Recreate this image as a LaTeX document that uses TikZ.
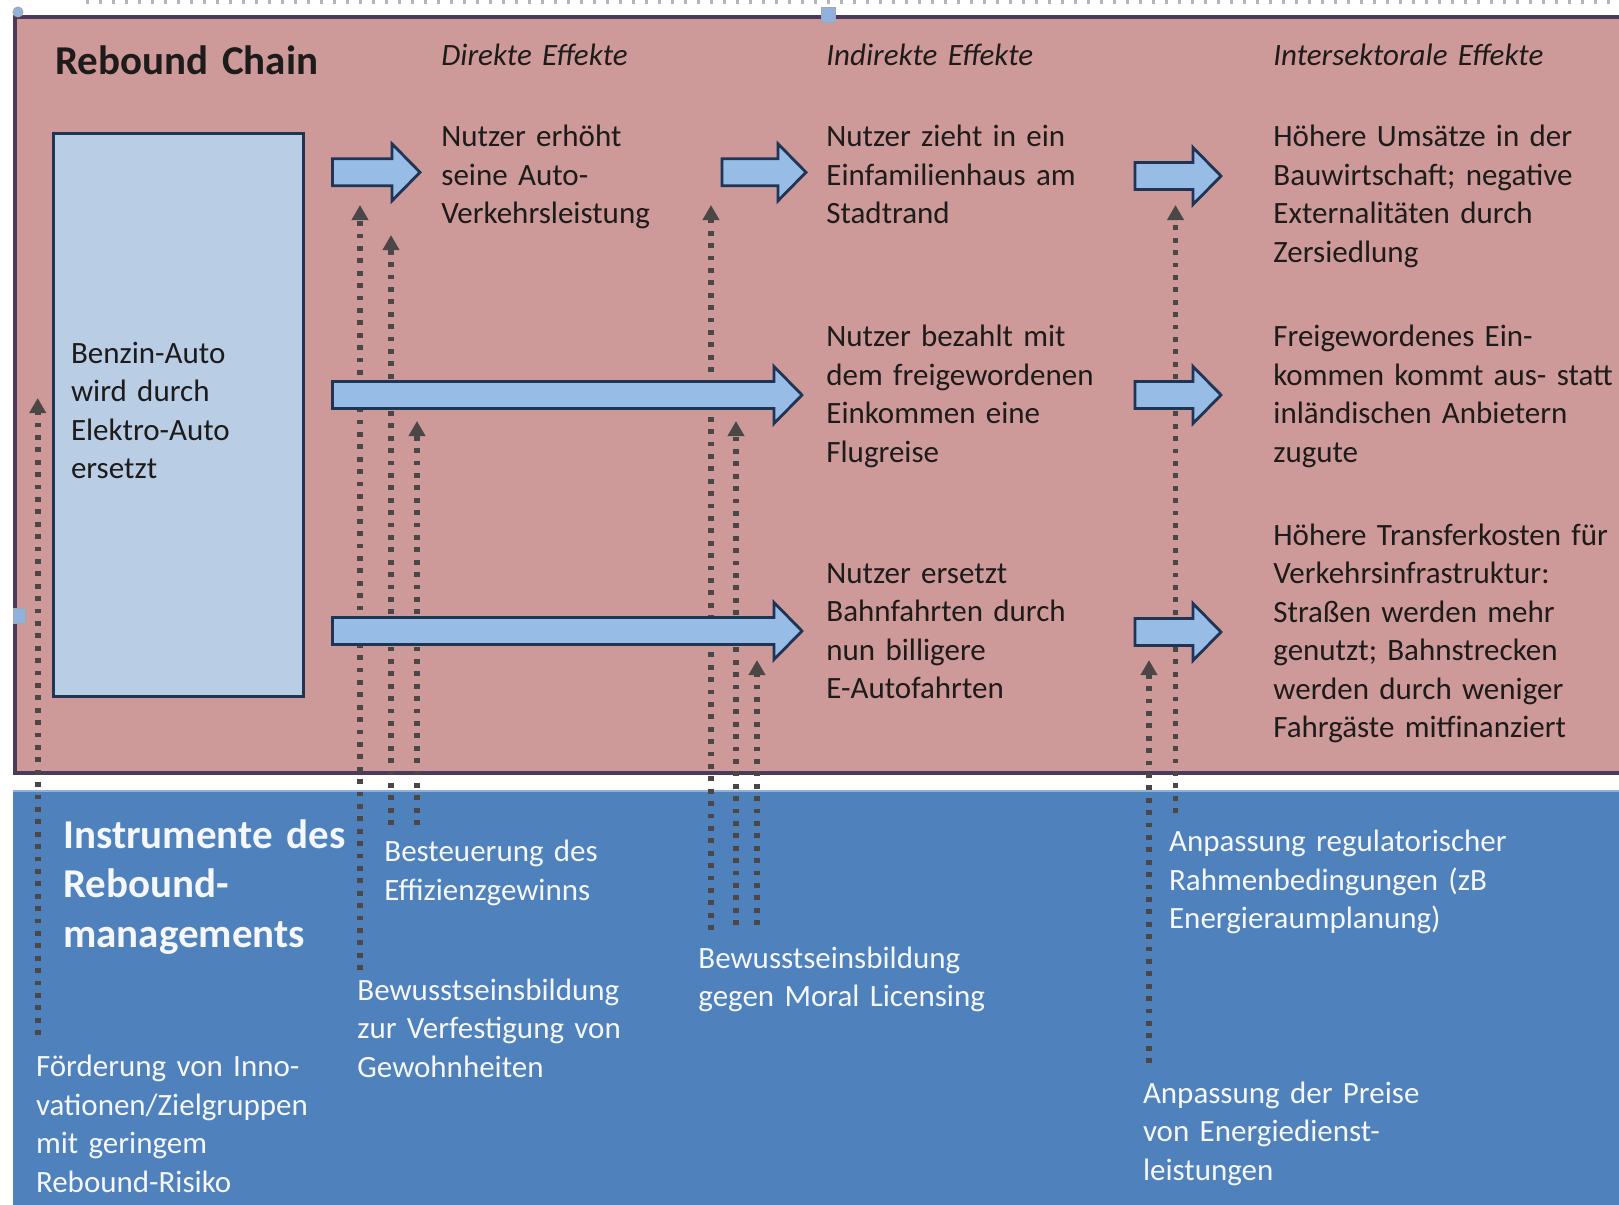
\documentclass[tikz,border=0pt]{standalone}
\usepackage{fontspec}
\setmainfont{Carlito}
\usetikzlibrary{arrows.meta}
\definecolor{pinkbg}{HTML}{CD9999}
\definecolor{pinkline}{HTML}{4A3A5E}
\definecolor{bluebg}{HTML}{4F81BD}
\definecolor{blueedge}{HTML}{8FB0D8}
\definecolor{boxfill}{HTML}{B9CDE5}
\definecolor{navy}{HTML}{1F3556}
\definecolor{arrowfill}{HTML}{97BCE6}
\definecolor{dotcol}{HTML}{4B4747}
\definecolor{txtdark}{HTML}{1E1B1B}
\definecolor{txtlight}{HTML}{F5F7FB}
\definecolor{handlefill}{HTML}{8FB2DE}
\definecolor{selgray}{HTML}{B4B4B4}
\newcommand\blockarr[3]{% left x, tip x, centre y
  \draw[blockarrow] (#1,#3-13.5) -- (#2-28,#3-13.5) -- (#2-28,#3-28.5) -- (#2,#3)
    -- (#2-28,#3+28.5) -- (#2-28,#3+13.5) -- (#1,#3+13.5) -- cycle;}
\begin{document}
\begin{tikzpicture}[x=0.5pt,y=-0.5pt,
  body/.style={anchor=base west,inner sep=0pt,text width=260pt,align=left,
    font=\fontsize{15.5}{19.25}\selectfont,text=txtdark},
  head/.style={body,font=\fontsize{15.5}{19.25}\selectfont\itshape},
  title/.style={body,font=\fontsize{20.5}{24.75}\selectfont\bfseries},
  light/.style={text=txtlight},
  dotarrow/.style={draw=dotcol,line width=2.8pt,dash pattern=on 2.4pt off 3.8pt,
    -{Triangle[width=8pt,length=7.5pt]}},
  blockarrow/.style={draw=navy,line width=1.4pt,fill=arrowfill,line join=miter},
  handle/.style={draw=gray!70,line width=0.5pt,fill=handlefill}
]
\clip (0,0) rectangle (1619,1205);
\fill[white] (0,0) rectangle (1619,1205);
% selection marks
\draw[selgray,line width=1.6pt,dash pattern=on 1.6pt off 4.9pt] (86,2) -- (1619,2);
% panels
\draw[fill=pinkbg,draw=pinkline,line width=1.8pt] (15,17) rectangle (1640,773);
\fill[bluebg] (13,790) rectangle (1640,1220);
\draw[blueedge,line width=1pt] (13,790.5) -- (1640,790.5);
% handles
\fill[handle] (18,12) circle (5);
\draw[handle] (821,7) rectangle (835,22);
\draw[handle] (13,608) rectangle (25,623);
% source box
\node[draw=navy,line width=1.6pt,fill=boxfill,anchor=north west,inner sep=0pt,
  minimum width=125pt,minimum height=281.5pt] (src) at (52,132) {};
\node[body] (srct) at (70.6,363) {Benzin-Auto\\wird durch\\Elektro-Auto\\ersetzt};
% dotted instrument arrows
\foreach \n/\x/\ya/\yb in {1/37.7/1035/398, 2/360/970/205, 3/391/825/235,
  4/417/825/421, 5/711/930/205, 6/736/925/421, 7/757/925/660,
  8/1175.5/813/205, 9/1149/1063/660}{
  \coordinate (d\n a) at (\x,\ya);
  \coordinate (d\n b) at (\x,\yb);
  \draw[dotarrow] (d\n a) -- (d\n b);
}
% block arrows
\blockarr{332.5}{420}{172.3}
\blockarr{722}{806}{172.3}
\blockarr{1135}{1221}{176}
\blockarr{332.5}{802}{395}
\blockarr{1135}{1221}{395}
\blockarr{332.5}{802}{631}
\blockarr{1135}{1221}{632}
% headings
\node[title] (rc) at (55,74) {Rebound Chain};
\node[head] (h1) at (441,65) {Direkte Effekte};
\node[head] (h2) at (826,65) {Indirekte Effekte};
\node[head] (h3) at (1273,65) {Intersektorale Effekte};
% effect texts
\node[body] (c1) at (441,146.5) {Nutzer erhöht\\seine Auto-\\Verkehrsleistung};
\node[body] (c2a) at (826,146.5) {Nutzer zieht in ein\\Einfamilienhaus am\\Stadtrand};
\node[body] (c3a) at (1273,146.5) {Höhere Umsätze in der\\Bauwirtschaft; negative\\Externalitäten durch\\Zersiedlung};
\node[body] (c2b) at (826,346.7) {Nutzer bezahlt mit\\dem freigewordenen\\Einkommen eine\\Flugreise};
\node[body] (c3b) at (1273,346.7) {Freigewordenes Ein-\\kommen kommt aus- statt\\inländischen Anbietern\\zugute};
\node[body] (c2c) at (826,583.3) {Nutzer ersetzt\\Bahnfahrten durch\\nun billigere\\E-Autofahrten};
\node[body] (c3c) at (1273,545) {Höhere Transferkosten für\\Verkehrsinfrastruktur:\\Straßen werden mehr\\genutzt; Bahnstrecken\\werden durch weniger\\Fahrgäste mitfinanziert};
% instruments
\node[title,light] (ir) at (62.8,848) {Instrumente des\\Rebound-\\managements};
\node[body,light] (i1) at (384,861.7) {Besteuerung des\\Effizienzgewinns};
\node[body,light] (i2) at (357,1000) {Bewusstseinsbildung\\zur Verfestigung von\\Gewohnheiten};
\node[body,light] (i3) at (698,968) {Bewusstseinsbildung\\gegen Moral Licensing};
\node[body,light] (i4) at (35.6,1076.7) {Förderung von Inno-\\vationen/Zielgruppen\\mit geringem\\Rebound-Risiko};
\node[body,light] (i5) at (1168.7,851.7) {Anpassung regulatorischer\\Rahmenbedingungen (zB\\Energieraumplanung)};
\node[body,light] (i6) at (1142.6,1103.3) {Anpassung der Preise\\von Energiedienst-\\leistungen};
\end{tikzpicture}
\end{document}
